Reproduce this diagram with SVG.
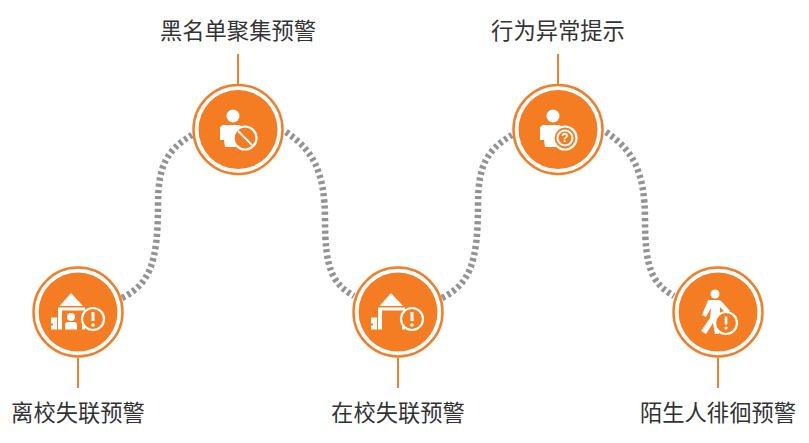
<svg xmlns="http://www.w3.org/2000/svg" width="809" height="443" viewBox="0 0 809 443">
<defs>
<style>
.ring{fill:#fff;stroke:#f07f2b;stroke-width:2.5}
.disc{fill:#f47d24}
.stem{stroke:#ef8231;stroke-width:2;fill:none}
.dot{fill:none;stroke:#939393;stroke-width:6.5;stroke-dasharray:3.2 3}
.w{fill:#fff}
.wl{fill:none;stroke:#fff;stroke-width:2}
.badge{fill:#f47d24;stroke:#fff;stroke-width:2.2}
text{font-family:"Noto Sans CJK SC","Noto Sans",sans-serif;font-size:22.3px;fill:#333;text-anchor:middle}
</style>
<g id="house">
<path class="w" d="M-11.500-5.500 L0-18.500 L12-5.500 Z"/>
<path class="w" d="M-13-4 H14 V-1 H-9 V18 H-13 Z"/>
<path class="w" d="M-20 6 H-14 V18 H-20 V14 H-18 V12 H-20 Z"/>
<rect class="w" x="11" y="13" width="3" height="5"/>
</g>
<g id="person">
<circle class="w" cx="0" cy="-10" r="6.500"/>
<path class="w" d="M-13 3 Q-13-1-9-1 H6 Q8-1 9 2 V21 H-8 L-9 14 H-13 Z"/>
</g>
</defs>
<g id="connectors">
<path class="dot" d="M122 298 C150 284 158 262 158 205 C158 165 167 150 192 135"/>
<path class="dot" d="M286 132 C312 150 325 170 325 220 C325 270 333 284 354 296"/>
<path class="dot" d="M442 298 C470 284 478 262 478 205 C478 165 487 150 512 135"/>
<path class="dot" d="M606 132 C632 150 645 170 645 220 C645 270 653 284 674 296"/>
<path class="stem" d="M78 358V388M238 54V84M398 358V388M558 54V84M718 358V388"/>
</g>
<g id="node-1">
<circle class="ring" cx="78" cy="312" r="44.500"/><circle class="disc" cx="78" cy="312" r="39.500"/>
<use href="#house" x="71" y="311.500"/>
<circle class="w" cx="71" cy="317" r="4"/><path class="w" d="M65 329.500V325Q65 322 68 322H74Q77 322 77 325V329.500Z"/>
<circle class="badge" cx="93" cy="319" r="11"/><rect class="w" x="91.500" y="312" width="3" height="9"/><circle class="w" cx="93" cy="325" r="1.800"/>
<text x="78" y="420.500">离校失联预警</text>
</g>
<g id="node-2">
<circle class="ring" cx="238" cy="129.500" r="44.500"/><circle class="disc" cx="238" cy="129.500" r="39.500"/>
<use href="#person" x="233" y="126"/>
<circle class="badge" cx="245" cy="138" r="11.500"/><path class="wl" stroke-width="2.500" d="M238 131L252 145"/>
<text x="238" y="39">黑名单聚集预警</text>
</g>
<g id="node-3">
<circle class="ring" cx="398" cy="312" r="44.500"/><circle class="disc" cx="398" cy="312" r="39.500"/>
<use href="#house" x="391" y="311.500"/>
<circle class="badge" cx="412" cy="319" r="11"/><rect class="w" x="410.500" y="312" width="3" height="9"/><circle class="w" cx="412" cy="325" r="1.800"/>
<text x="398" y="420.500">在校失联预警</text>
</g>
<g id="node-4">
<circle class="ring" cx="558" cy="129.500" r="44.500"/><circle class="disc" cx="558" cy="129.500" r="39.500"/>
<use href="#person" x="553" y="126"/>
<circle class="badge" cx="565" cy="138" r="11.500"/><circle class="wl" cx="565" cy="138" r="7.500" stroke-width="1.500"/>
<text x="565" y="142" style="font:bold 12px 'Liberation Sans',sans-serif;fill:#fff">?</text>
<text x="558" y="39">行为异常提示</text>
</g>
<g id="node-5">
<circle class="ring" cx="718" cy="312" r="44.500"/><circle class="disc" cx="718" cy="312" r="39.500"/>
<circle class="w" cx="715" cy="294" r="4.500"/>
<path class="w" d="M708 300H718Q721 300 723 303L730 311L727 314L720 307V316L718 322L719 334H715L713 323L706 334L701 331L710 318L711 308L706 317L702 315Z"/>
<circle class="badge" cx="726" cy="323" r="11"/><rect class="w" x="724.700" y="316.500" width="2.600" height="8"/><circle class="w" cx="726" cy="328" r="1.600"/>
<text x="718" y="420.500">陌生人徘徊预警</text>
</g>
</svg>
